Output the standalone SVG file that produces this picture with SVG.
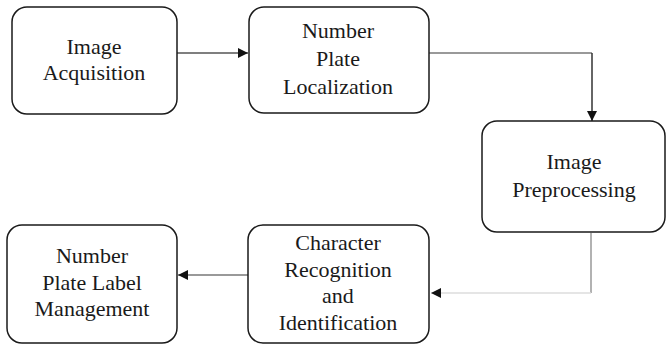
<svg xmlns="http://www.w3.org/2000/svg" width="667" height="345" viewBox="0 0 667 345">
<style>
.box{fill:#fff;stroke:#1a1a1a;stroke-width:1.5}
.t{font-family:"Liberation Serif","Times New Roman",serif;font-size:22px;fill:#1a1a1a;text-anchor:middle}
.c{fill:none;stroke-width:1.5}
</style>
<defs>
<marker id="ah" markerWidth="10" markerHeight="10" refX="10" refY="5" orient="auto" markerUnits="userSpaceOnUse">
<path d="M0,0 L10,5 L0,10 Z" fill="#111"/>
</marker>
</defs>
<rect width="667" height="345" fill="#fff"/>
<g id="connectors">
<path class="c" d="M177,53 H248" stroke="#555" marker-end="url(#ah)"/>
<path class="c" d="M429,53 H592" stroke="#777"/>
<path class="c" d="M592,53 V121" stroke="#333" marker-end="url(#ah)"/>
<path class="c" d="M591,233 V293" stroke="#999" stroke-width="1.2"/>
<path class="c" d="M591,293 H431" stroke="#ddd" stroke-width="1.2" marker-end="url(#ah)"/>
<path class="c" d="M248,275 H178" stroke="#777" marker-end="url(#ah)"/>
</g>
<g id="n1">
<rect class="box" x="12" y="7" width="165" height="107" rx="15"/>
<text class="t" x="94" y="54">Image</text>
<text class="t" x="94" y="80">Acquisition</text>
</g>
<g id="n2">
<rect class="box" x="249" y="7" width="180" height="106" rx="15"/>
<text class="t" x="338" y="38">Number</text>
<text class="t" x="338" y="66">Plate</text>
<text class="t" x="338" y="94">Localization</text>
</g>
<g id="n3">
<rect class="box" x="482" y="121" width="183" height="111" rx="15"/>
<text class="t" x="574" y="169">Image</text>
<text class="t" x="574" y="197">Preprocessing</text>
</g>
<g id="n4">
<rect class="box" x="248" y="225" width="181" height="118" rx="15"/>
<text class="t" x="338" y="250">Character</text>
<text class="t" x="338" y="277">Recognition</text>
<text class="t" x="338" y="303">and</text>
<text class="t" x="338" y="330">Identification</text>
</g>
<g id="n5">
<rect class="box" x="7" y="225" width="170" height="118" rx="15"/>
<text class="t" x="92" y="263">Number</text>
<text class="t" x="92" y="290">Plate Label</text>
<text class="t" x="92" y="316">Management</text>
</g>
</svg>
